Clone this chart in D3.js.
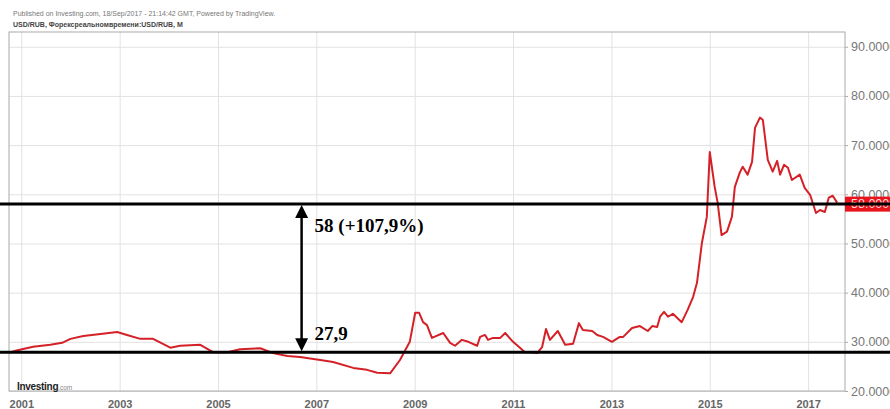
<!DOCTYPE html>
<html>
<head>
<meta charset="utf-8">
<script src="https://cdn.jsdelivr.net/npm/d3@7"></script>
<style>
  body { margin: 0; background: #fff; }
  svg { display: block; font-family: Arial, "Liberation Sans", sans-serif; }
</style>
</head>
<body>
<div id="chart"></div>
<script>
// USD/RUB monthly (decimal year, rate)
var years = [2000.76, 2000.88, 2001.24, 2001.59, 2001.83, 2002.00, 2002.26, 2002.61, 2002.95, 2003.15,
  2003.42, 2003.68, 2004.03, 2004.23, 2004.64, 2004.90, 2005.19, 2005.45, 2005.86, 2006.12,
  2006.41, 2006.67, 2007.08, 2007.34, 2007.75, 2008.03, 2008.24, 2008.50, 2008.70, 2008.90,
  2009.01, 2009.09, 2009.17, 2009.25, 2009.35, 2009.58, 2009.72, 2009.82, 2009.96, 2010.09,
  2010.27, 2010.33, 2010.43, 2010.49, 2010.59, 2010.74, 2010.84, 2011.00, 2011.14, 2011.24,
  2011.35, 2011.49, 2011.59, 2011.67, 2011.75, 2011.91, 2012.06, 2012.22, 2012.34, 2012.42,
  2012.61, 2012.71, 2012.83, 2013.01, 2013.17, 2013.24, 2013.42, 2013.58, 2013.74, 2013.83,
  2013.93, 2013.99, 2014.07, 2014.15, 2014.25, 2014.43, 2014.55, 2014.66, 2014.74, 2014.84,
  2014.94, 2015.00, 2015.10, 2015.16, 2015.24, 2015.35, 2015.45, 2015.51, 2015.61, 2015.67,
  2015.77, 2015.86, 2015.92, 2016.02, 2016.08, 2016.18, 2016.28, 2016.37, 2016.43, 2016.51,
  2016.59, 2016.67, 2016.83, 2016.93, 2017.04, 2017.16, 2017.24, 2017.34, 2017.42, 2017.50,
  2017.59];
var rates = [27.8, 28.2, 29.0, 29.4, 29.8, 30.6, 31.2, 31.6, 32.0, 31.4,
  30.6, 30.6, 28.8, 29.2, 29.4, 27.9, 27.9, 28.5, 28.7, 27.7,
  27.1, 26.9, 26.3, 25.9, 24.7, 24.3, 23.7, 23.6, 26.3, 30.0,
  35.9, 35.9, 34.0, 33.4, 30.8, 31.8, 29.8, 29.2, 30.4, 30.0,
  29.2, 31.0, 31.4, 30.4, 30.8, 30.8, 31.8, 30.0, 28.8, 27.9,
  27.9, 27.7, 28.9, 32.6, 30.4, 32.2, 29.4, 29.6, 33.8, 32.4,
  32.2, 31.4, 31.0, 30.0, 31.0, 31.0, 32.8, 33.2, 32.2, 33.2,
  33.0, 35.1, 36.1, 35.1, 35.7, 34.0, 36.5, 39.1, 42.0, 50.1,
  55.4, 68.6, 61.5, 58.3, 51.7, 52.4, 55.4, 61.5, 64.4, 65.6,
  64.0, 66.6, 73.5, 75.6, 75.1, 67.0, 64.6, 66.8, 64.0, 66.0,
  65.4, 62.9, 64.0, 61.3, 59.9, 56.2, 56.8, 56.4, 59.3, 59.7,
  58.3];

var xTicks = [2001, 2003, 2005, 2007, 2009, 2011, 2013, 2015, 2017];
var yTicks = [20, 30, 40, 50, 60, 70, 80, 90];

var lastPrice = 58;      // red price tag / upper black line
var basePrice = 27.9;    // lower black line
var changeLabel = "58 (+107,9%)";
var baseLabel = "27,9";
var arrowYear = 2006.7;

var W = 890, H = 409;
var pLeft = 9, pRight = 845, pTop = 32, pBottom = 391;

var svg = d3.select("#chart").append("svg")
  .attr("width", W)
  .attr("height", H);

var x = d3.scaleLinear().domain([2000.75, 2017.75]).range([pLeft, pRight]);
var y = d3.scaleLinear().domain([20, 93]).range([pBottom, pTop]);

// header
svg.append("text")
  .attr("x", 13).attr("y", 16)
  .style("font-size", "7px").style("fill", "#777")
  .text("Published on Investing.com, 18/Sep/2017 - 21:14:42 GMT, Powered by TradingView.");
svg.append("text")
  .attr("x", 13).attr("y", 27)
  .style("font-size", "7px").style("font-weight", "bold").style("fill", "#444")
  .text("USD/RUB, Форексреальномвремени:USD/RUB, M");

// grid
svg.append("g")
  .attr("transform", "translate(0," + pBottom + ")")
  .call(d3.axisBottom(x).tickValues(xTicks).tickSize(-(pBottom - pTop)).tickFormat(""))
  .call(function(g){ g.select(".domain").remove(); })
  .selectAll("line").attr("stroke", "#e2e2e2");

svg.append("g")
  .attr("transform", "translate(" + pLeft + ",0)")
  .call(d3.axisLeft(y).tickValues(yTicks).tickSize(-(pRight - pLeft)).tickFormat(""))
  .call(function(g){ g.select(".domain").remove(); })
  .selectAll("line").attr("stroke", "#e2e2e2");

// frame
svg.append("rect")
  .attr("x", pLeft).attr("y", pTop)
  .attr("width", pRight - pLeft).attr("height", pBottom - pTop)
  .attr("fill", "none").attr("stroke", "#aaa").attr("stroke-width", 1);

// x labels
var xa = svg.append("g")
  .attr("transform", "translate(0," + (pBottom + 4) + ")")
  .call(d3.axisBottom(x).tickValues(xTicks).tickSize(0).tickFormat(d3.format("d")));
xa.select(".domain").remove();
xa.selectAll("text")
  .attr("dy", "0.95em")
  .style("font-size", "11px").style("font-weight", "bold").style("fill", "#666")
  .style("font-family", "Arial, 'Liberation Sans', sans-serif");

// y labels
var ya = svg.append("g")
  .attr("transform", "translate(" + pRight + ",0)")
  .call(d3.axisRight(y).tickValues(yTicks).tickSize(3).tickPadding(3).tickFormat(function(d){ return d.toFixed(4); }));
ya.select(".domain").remove();
ya.selectAll("line").attr("stroke", "#aaa");
ya.selectAll("text")
  .style("font-size", "12.5px").style("fill", "#777")
  .style("font-family", "Arial, 'Liberation Sans', sans-serif");

// logo
var logo = svg.append("text").attr("x", 17).attr("y", 390);
logo.append("tspan").text("Investing")
  .style("font-size", "10px").style("font-weight", "bold").style("fill", "#222").style("letter-spacing", "-0.3px");
logo.append("tspan").text(".com")
  .style("font-size", "6.5px").style("fill", "#888");

// series
var line = d3.line()
  .x(function(d, i){ return x(years[i]); })
  .y(function(d){ return y(d); });

svg.append("path")
  .datum(rates)
  .attr("d", line)
  .attr("fill", "none")
  .attr("stroke", "#d42128")
  .attr("stroke-width", 2)
  .attr("stroke-linejoin", "round");

// price tag
svg.append("rect")
  .attr("x", pRight).attr("y", y(lastPrice) - 7.5)
  .attr("width", W - pRight).attr("height", 15)
  .attr("fill", "#e8141b");
svg.append("text")
  .attr("x", pRight + 6).attr("y", y(lastPrice))
  .attr("dy", "0.35em")
  .style("font-size", "12.5px").style("fill", "#fbdada")
  .text(lastPrice.toFixed(4));

// black reference lines
[lastPrice, basePrice].forEach(function(v){
  svg.append("line")
    .attr("x1", 0).attr("x2", W)
    .attr("y1", y(v)).attr("y2", y(v))
    .attr("stroke", "#000").attr("stroke-width", 3);
});

// double arrow
var ax = x(arrowYear), ay1 = y(lastPrice), ay2 = y(basePrice);
svg.append("line")
  .attr("x1", ax).attr("x2", ax)
  .attr("y1", ay1 + 10).attr("y2", ay2 - 10)
  .attr("stroke", "#000").attr("stroke-width", 2.5);
svg.append("path")
  .attr("d", "M" + ax + "," + (ay1 + 1) + "L" + (ax - 6.5) + "," + (ay1 + 14) + "L" + (ax + 6.5) + "," + (ay1 + 14) + "Z")
  .attr("fill", "#000");
svg.append("path")
  .attr("d", "M" + ax + "," + (ay2 - 1) + "L" + (ax - 6.5) + "," + (ay2 - 14) + "L" + (ax + 6.5) + "," + (ay2 - 14) + "Z")
  .attr("fill", "#000");

svg.append("text")
  .attr("x", ax + 13).attr("y", 232)
  .style("font-family", "'Liberation Serif', 'Times New Roman', serif")
  .style("font-size", "19px").style("font-weight", "bold")
  .text(changeLabel);
svg.append("text")
  .attr("x", ax + 13).attr("y", y(basePrice) - 12)
  .style("font-family", "'Liberation Serif', 'Times New Roman', serif")
  .style("font-size", "19px").style("font-weight", "bold")
  .text(baseLabel);
</script>
</body>
</html>
